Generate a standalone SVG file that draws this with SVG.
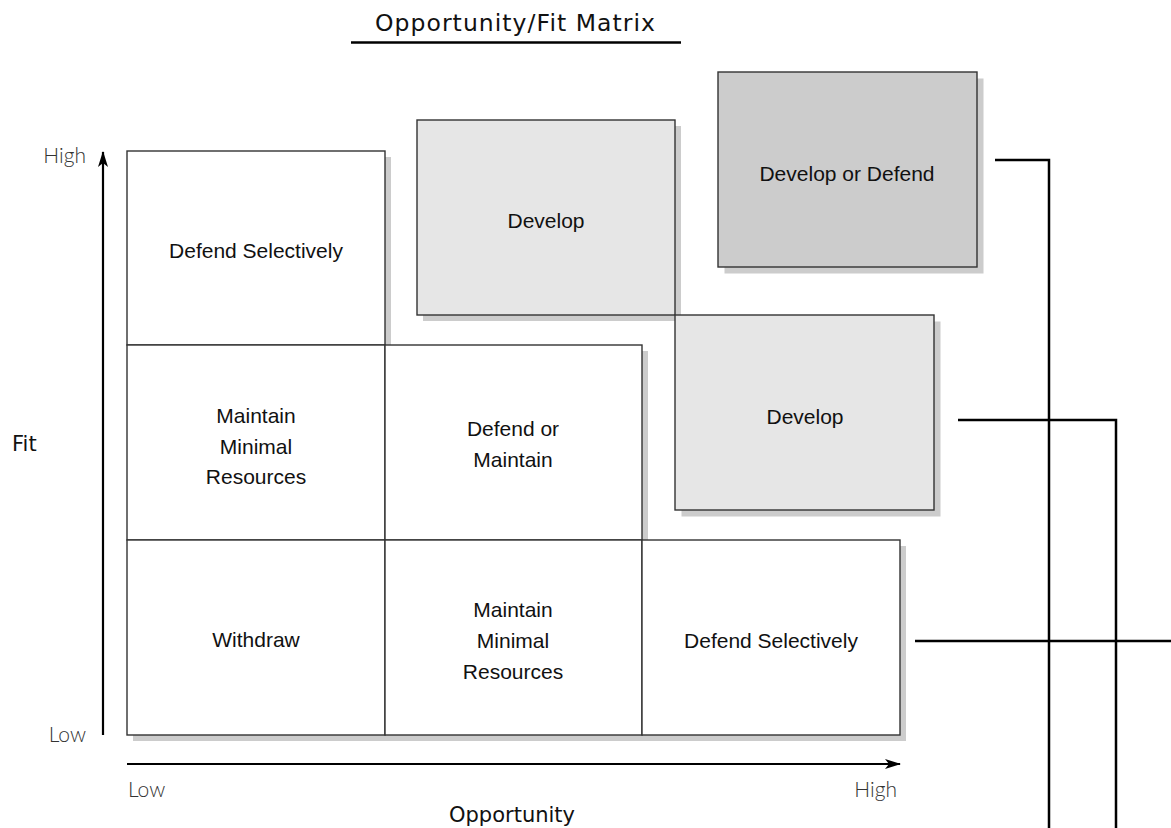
<svg xmlns="http://www.w3.org/2000/svg" width="1171" height="828" viewBox="0 0 1171 828">
<style>
.sh{fill:#cccccc}
.bx{stroke:#333333;stroke-width:1.4}
.w{fill:#ffffff}
.g1{fill:#e6e6e6}
.g2{fill:#cccccc}
.t{font-family:"Liberation Sans",Arial,sans-serif;font-size:21px;fill:#111111;text-anchor:middle}
.ax{font-family:Lato,"Liberation Sans",sans-serif;font-weight:300;font-size:21px;fill:#333333}
.lab{font-family:"DejaVu Sans","Liberation Sans",sans-serif;font-size:21px;fill:#111111}
.cn{fill:none;stroke:#000000;stroke-width:2.5}
</style>
<defs>
<marker id="ah" viewBox="0 0 16 10" refX="15" refY="5" markerWidth="16" markerHeight="10" markerUnits="userSpaceOnUse" orient="auto">
<path d="M0,0 L16,5 L0,10 L4,5 Z" fill="#000000"/>
</marker>
</defs>
<rect width="1171" height="828" fill="#ffffff"/>
<g id="title">
<text class="lab" x="515" y="31" text-anchor="middle" style="font-size:23.5px" textLength="280" lengthAdjust="spacing">Opportunity/Fit Matrix</text>
<line x1="351" y1="42.5" x2="681" y2="42.5" stroke="#000000" stroke-width="2.5"/>
</g>
<g id="axes">
<line x1="103" y1="735" x2="103" y2="152" stroke="#000000" stroke-width="2.2" marker-end="url(#ah)"/>
<line x1="127" y1="764" x2="900" y2="764" stroke="#000000" stroke-width="2.2" marker-end="url(#ah)"/>
<text class="ax" x="86" y="163" text-anchor="end">High</text>
<text class="ax" x="86" y="742" text-anchor="end">Low</text>
<text class="ax" x="128" y="797">Low</text>
<text class="ax" x="897" y="797" text-anchor="end">High</text>
<text class="lab" x="12" y="451">Fit</text>
<text class="lab" x="512" y="822" text-anchor="middle">Opportunity</text>
</g>
<g id="connectors">
<polyline class="cn" points="995,160 1049,160 1049,828"/>
<polyline class="cn" points="958,420 1116,420 1116,828"/>
<line class="cn" x1="915" y1="641" x2="1171" y2="641"/>
</g>
<g id="n-defend-selectively-top">
<rect class="sh" x="133" y="157" width="258" height="194"/>
<rect class="bx w" x="127" y="151" width="258" height="194"/>
<text class="t" x="256" y="258">Defend Selectively</text>
</g>
<g id="n-develop-1">
<rect class="sh" x="423" y="126" width="258" height="195"/>
<rect class="bx g1" x="417" y="120" width="258" height="195"/>
<text class="t" x="546" y="228">Develop</text>
</g>
<g id="n-develop-or-defend">
<rect class="sh" x="724.5" y="78.5" width="259" height="195"/>
<rect class="bx g2" x="718" y="72" width="259" height="195"/>
<text class="t" x="847" y="181">Develop or Defend</text>
</g>
<g id="n-maintain-minimal-1">
<rect class="sh" x="133" y="351" width="258" height="195"/>
<rect class="bx w" x="127" y="345" width="258" height="195"/>
<text class="t" x="256" y="423">Maintain</text>
<text class="t" x="256" y="454">Minimal</text>
<text class="t" x="256" y="484">Resources</text>
</g>
<g id="n-defend-or-maintain">
<rect class="sh" x="391" y="351" width="257" height="195"/>
<rect class="bx w" x="385" y="345" width="257" height="195"/>
<text class="t" x="513" y="436">Defend or</text>
<text class="t" x="513" y="467">Maintain</text>
</g>
<g id="n-develop-2">
<rect class="sh" x="681.5" y="321.5" width="259" height="195"/>
<rect class="bx g1" x="675" y="315" width="259" height="195"/>
<text class="t" x="805" y="424">Develop</text>
</g>
<g id="n-withdraw">
<rect class="sh" x="133" y="546" width="258" height="195"/>
<rect class="bx w" x="127" y="540" width="258" height="195"/>
<text class="t" x="256" y="647">Withdraw</text>
</g>
<g id="n-maintain-minimal-2">
<rect class="sh" x="391" y="546" width="257" height="195"/>
<rect class="bx w" x="385" y="540" width="257" height="195"/>
<text class="t" x="513" y="617">Maintain</text>
<text class="t" x="513" y="648">Minimal</text>
<text class="t" x="513" y="679">Resources</text>
</g>
<g id="n-defend-selectively-bottom">
<rect class="sh" x="648" y="546" width="258" height="195"/>
<rect class="bx w" x="642" y="540" width="258" height="195"/>
<text class="t" x="771" y="648">Defend Selectively</text>
</g>
</svg>
